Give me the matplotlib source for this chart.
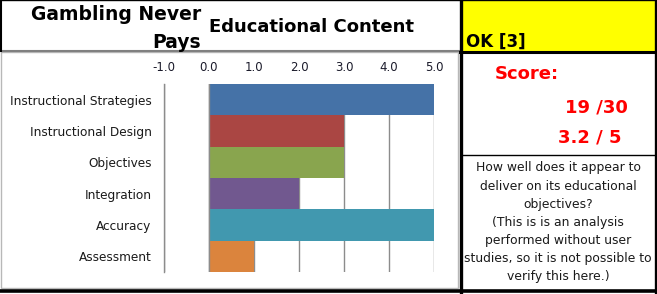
import matplotlib
matplotlib.use("Agg")
import matplotlib.pyplot as plt
from matplotlib.patches import Rectangle

# data
categories = [
    "Instructional Strategies",
    "Instructional Design",
    "Objectives",
    "Integration",
    "Accuracy",
    "Assessment",
]
scores = [5, 3, 3, 2, 5, 1]
bar_colors = ["#4572A7", "#AA4643", "#89A54E", "#71588F", "#4198AF", "#DB843D"]
x_ticks = [-1, 0, 1, 2, 3, 4, 5]

title_left = ["Gambling Never", "Pays"]
title_right = "Educational Content"
rating = "OK [3]"
score_lines = ["Score:", "19 /30", "3.2 / 5"]
note_lines = [
    "How well does it appear to",
    "deliver on its educational",
    "objectives?",
    "(This is is an analysis",
    "performed without user",
    "studies, so it is not possible to",
    "verify this here.)",
]

W, H = 657, 294
FONT = "DejaVu Sans"

fig = plt.figure(figsize=(W / 100, H / 100), dpi=100, facecolor="white")

# pixel-space overlay for the table cells and texts
frame = fig.add_axes([0, 0, 1, 1], zorder=0)
frame.set_xlim(0, W)
frame.set_ylim(H, 0)
frame.axis("off")

frame.add_patch(Rectangle((461, 0), 194, 51, facecolor="#FFFF00", edgecolor="none"))
# chart box (gray)
frame.add_patch(Rectangle((0.5, 52), 457, 235.5, facecolor="white", edgecolor="#B8B8B8", lw=1.0))
# lines of the sheet grid
frame.plot([0, 460], [51, 51], color="#808080", lw=1.5)
frame.plot([460, 656], [51.5, 51.5], color="black", lw=2.2)
frame.plot([460.5, 460.5], [0, 293], color="black", lw=2.4)
frame.plot([655.5, 655.5], [0, 293], color="black", lw=2.4)
frame.plot([0, 657], [290.5, 290.5], color="black", lw=2.6)
frame.plot([0.5, 0.5], [0, 51], color="black", lw=1.5)
frame.plot([0, 657], [0.3, 0.3], color="black", lw=1.0)
frame.plot([461, 655], [154.5, 154.5], color="black", lw=1.0)

# header texts
frame.text(201, 15, title_left[0], ha="right", va="center", fontsize=13.5,
           fontweight="bold", family=FONT)
frame.text(201, 42, title_left[1], ha="right", va="center", fontsize=13.5,
           fontweight="bold", family=FONT)
frame.text(209, 27, title_right, ha="left", va="center", fontsize=13,
           fontweight="bold", family=FONT)
frame.text(466, 42, rating, ha="left", va="center", fontsize=12,
           fontweight="bold", family=FONT)

# score cell
frame.text(495, 74, score_lines[0], ha="left", va="center", fontsize=13,
           fontweight="bold", color="#FF0000", family=FONT)
frame.text(628, 108, score_lines[1], ha="right", va="center", fontsize=13,
           fontweight="bold", color="#FF0000", family=FONT)
frame.text(622, 137, score_lines[2], ha="right", va="center", fontsize=13,
           fontweight="bold", color="#FF0000", family=FONT)

# note cell
for i, line in enumerate(note_lines):
    frame.text(558, 168 + i * 18.1, line, ha="center", va="center", fontsize=8.9,
               family=FONT, color="#1a1a1a")

# bar chart
ax = fig.add_axes([164 / W, 1 - 272 / H, 270 / W, 188 / H], zorder=1)
ax.set_facecolor("none")
y_pos = list(range(len(categories)))
ax.barh(y_pos, scores, height=1.0, color=bar_colors, edgecolor="none", zorder=2)
ax.set_xlim(-1, 5)
ax.set_ylim(len(categories) - 0.5, -0.5)
ax.set_xticks(x_ticks)
ax.set_xticklabels([f"{t:.1f}" for t in x_ticks], family=FONT, fontsize=8.5,
                   color="#1a1a2a")
ax.xaxis.tick_top()
ax.tick_params(axis="x", length=0, pad=7)
ax.set_yticks(y_pos)
ax.set_yticklabels(categories, family=FONT, fontsize=8.7, color="#1a1a1a")
ax.tick_params(axis="y", length=0, pad=9)
ax.grid(axis="x", color="#8C8C8C", lw=1.0, zorder=1)
ax.axvline(0, color="#8C8C8C", lw=1.0, zorder=3)
for side in ("top", "right", "bottom"):
    ax.spines[side].set_visible(False)
ax.spines["left"].set_color("#8C8C8C")
ax.spines["left"].set_linewidth(1.0)

fig.savefig("out.png", dpi=100, facecolor="white")
